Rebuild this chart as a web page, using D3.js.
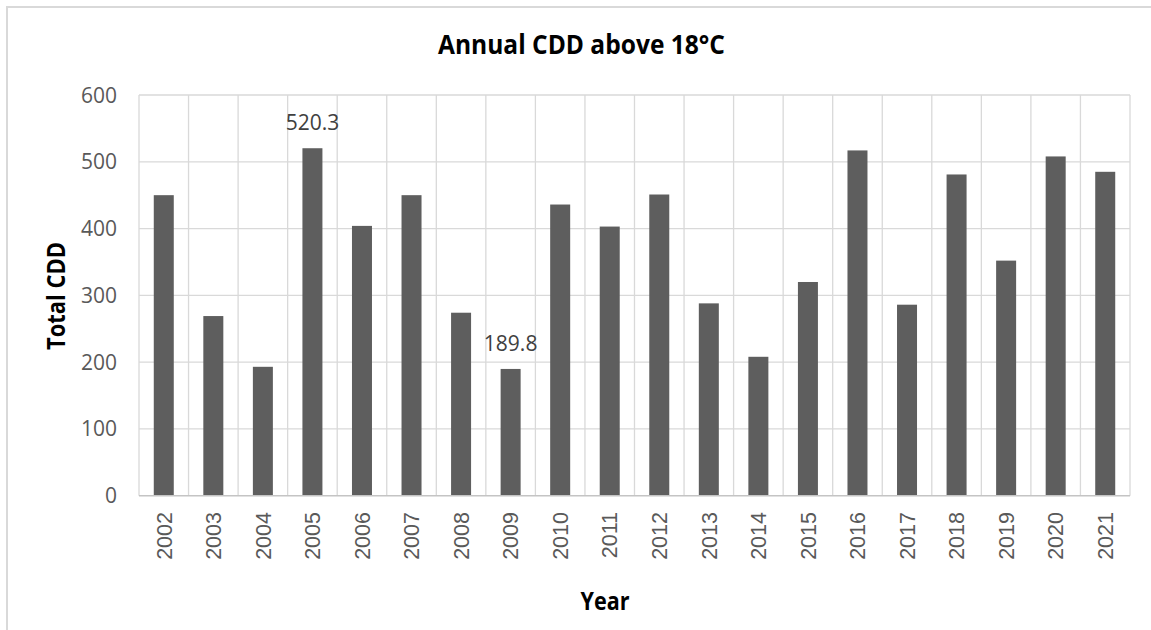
<!DOCTYPE html>
<html>
<head>
<meta charset="utf-8">
<script src="https://cdn.jsdelivr.net/npm/d3@7"></script>
<style>
  html, body { margin: 0; padding: 0; background: #fff; }
  svg { display: block; }
</style>
</head>
<body>
<svg id="chart" width="1151" height="630"></svg>
<script>
// Annual cooling degree days (base 18 °C)
const years = ["2002","2003","2004","2005","2006","2007","2008","2009","2010","2011",
               "2012","2013","2014","2015","2016","2017","2018","2019","2020","2021"];
const cdd = [450, 269, 193, 520.3, 404, 450, 274, 189.8, 436, 403,
             451, 288, 208, 320, 517, 286, 481, 352, 508, 485];
const yTicks = [0, 100, 200, 300, 400, 500, 600];
// only these years carry a value label
const labelledYears = ["2005", "2009"];

const svg = d3.select("#chart");
const W = 1151, H = 630;
const plot = { left: 139, right: 1130, top: 95, bottom: 495.7 };

const x = d3.scaleBand().domain(years).range([plot.left, plot.right]).paddingInner(0.6).paddingOuter(0.3);
const xCat = d3.scaleBand().domain(years).range([plot.left, plot.right]).padding(0);
const y = d3.scaleLinear().domain([0, 600]).range([plot.bottom, plot.top]);

// chart frame (top and left edges visible)
svg.append("path")
  .attr("d", `M7,${H} V7 H${W}`)
  .attr("fill", "none").attr("stroke", "#d9d9d9").attr("stroke-width", 2);

const grid = svg.append("g");
// horizontal gridlines
grid.selectAll("line.h").data(yTicks.filter(t => t > 0)).join("line")
  .attr("x1", plot.left).attr("x2", plot.right)
  .attr("y1", d => y(d)).attr("y2", d => y(d))
  .attr("stroke", "#d9d9d9").attr("stroke-width", 1.3);
// vertical gridlines at category boundaries
const bounds = years.map(d => xCat(d)).concat([plot.right]);
grid.selectAll("line.v").data(bounds).join("line")
  .attr("x1", d => d).attr("x2", d => d)
  .attr("y1", plot.top).attr("y2", plot.bottom)
  .attr("stroke", "#d9d9d9").attr("stroke-width", 1.3);

// bars
svg.append("g").selectAll("rect").data(years).join("rect")
  .attr("x", (d) => xCat(d) + xCat.bandwidth() / 2 - 10)
  .attr("width", 20)
  .attr("y", (d, i) => y(cdd[i]))
  .attr("height", (d, i) => plot.bottom - y(cdd[i]))
  .attr("fill", "#5e5e5e");

// category axis line
svg.append("line")
  .attr("x1", plot.left).attr("x2", plot.right)
  .attr("y1", plot.bottom).attr("y2", plot.bottom)
  .attr("stroke", "#c4c4c4").attr("stroke-width", 1.5);

// value axis labels
svg.append("g").selectAll("text").data(yTicks).join("text")
  .attr("x", 117).attr("y", d => y(d)).attr("dy", "0.36em")
  .attr("text-anchor", "end")
  .attr("font-family", "'Open Sans', sans-serif").attr("font-size", 21)
  .attr("fill", "#595959")
  .text(d => d);

// category labels, rotated
svg.append("g").selectAll("text").data(years).join("text")
  .attr("transform", d => `translate(${xCat(d) + xCat.bandwidth() / 2},512) rotate(-90)`)
  .attr("dy", "0.36em")
  .attr("text-anchor", "end")
  .attr("font-family", "'Liberation Sans', Arial, sans-serif").attr("font-size", 21.5)
  .attr("fill", "#595959")
  .text(d => d);

// value labels on selected bars
svg.append("g").selectAll("text").data(labelledYears).join("text")
  .attr("x", d => xCat(d) + xCat.bandwidth() / 2)
  .attr("y", d => y(cdd[years.indexOf(d)]) - 18)
  .attr("text-anchor", "middle")
  .attr("font-family", "'Open Sans', sans-serif").attr("font-size", 21)
  .attr("fill", "#404040")
  .text(d => cdd[years.indexOf(d)].toFixed(1));

// titles
function boldText(sel, txt, size, len) {
  return sel.append("text")
    .attr("text-anchor", "middle")
    .attr("font-family", "'Open Sans', sans-serif")
    .attr("font-weight", "bold")
    .attr("font-size", size)
    .attr("fill", "#000")
    .attr("textLength", len).attr("lengthAdjust", "spacingAndGlyphs")
    .text(txt);
}
boldText(svg, "Annual CDD above 18°C", 26, 287).attr("x", 581.5).attr("y", 54.3);
boldText(svg, "Year", 25, 49).attr("x", 605).attr("y", 610);
boldText(svg, "Total CDD", 25, 108).attr("transform", "translate(65,296) rotate(-90)");
</script>
</body>
</html>
